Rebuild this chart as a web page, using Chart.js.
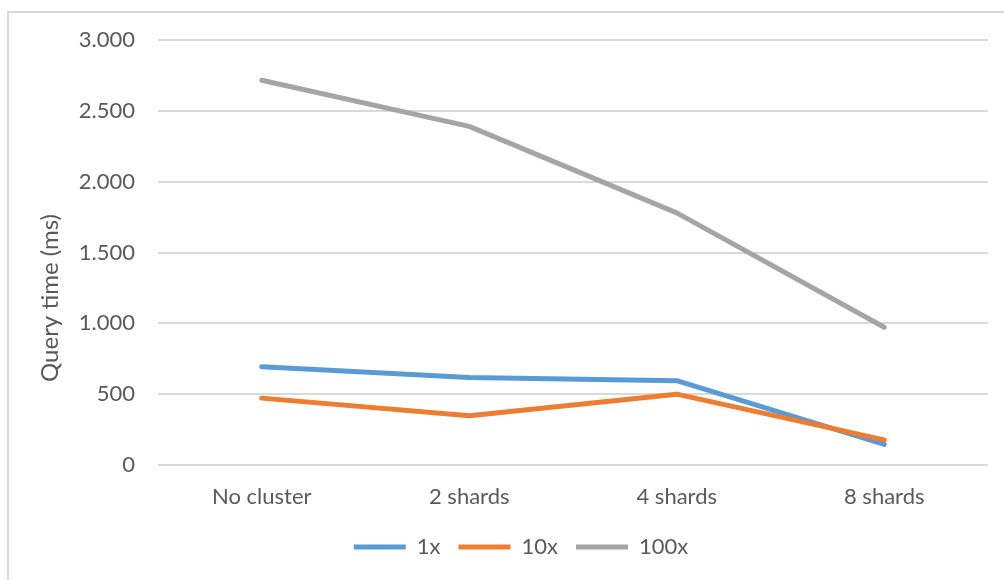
<!DOCTYPE html>
<html>
<head>
<meta charset="utf-8">
<title>Query time</title>
<script src="https://cdn.jsdelivr.net/npm/chart.js@4/dist/chart.umd.min.js"></script>
<style>
  html, body { margin: 0; padding: 0; background: #fff; }
  #wrap { position: relative; width: 1004px; height: 580px; overflow: hidden; }
  #frame { position: absolute; left: 7px; top: 11px; width: 1100px; height: 700px;
           border-left: 2px solid #d9d9d9; border-top: 2px solid #d9d9d9; }
  #chart { position: absolute; left: 0; top: 0; }
</style>
</head>
<body>
<div id="wrap">
  <div id="frame"></div>
  <canvas id="chart" width="1004" height="580"></canvas>
</div>
<script>
// chart data
const categories = ["No cluster", "2 shards", "4 shards", "8 shards"];
const seriesNames = ["1x", "10x", "100x"];
const time1x = [694, 618, 595, 145];
const time10x = [472, 347, 500, 177];
const time100x = [2716, 2390, 1780, 972];
const yTicks = [0, 500, 1000, 1500, 2000, 2500, 3000];

const textColor = "#595959";
const fontFamily = "Lato, 'Liberation Sans', sans-serif";

// thousands with a dot, like the source
function fmt(v) {
  return String(v).replace(/\B(?=(\d{3})+(?!\d))/g, ".");
}

// y axis title drawn at its own spot (Excel puts it a bit low)
const yTitle = {
  id: "yTitle",
  afterDraw(chart) {
    const ctx = chart.ctx;
    ctx.save();
    ctx.translate(50, 298);
    ctx.rotate(-Math.PI / 2);
    ctx.font = "24px " + fontFamily;
    ctx.fillStyle = textColor;
    ctx.textAlign = "center";
    ctx.textBaseline = "middle";
    ctx.fillText("Query time (ms)", 0, 0);
    ctx.restore();
  },
};

function line(label, data, color, order) {
  return {
    label,
    data,
    order,
    borderColor: color,
    backgroundColor: color,
    borderWidth: 5,
    borderCapStyle: "round",
    borderJoinStyle: "round",
    pointRadius: 0,
    pointHoverRadius: 0,
    tension: 0,
    fill: false,
  };
}

new Chart(document.getElementById("chart").getContext("2d"), {
  type: "line",
  data: {
    labels: categories,
    datasets: [
      line(seriesNames[0], time1x, "#5b9bd5", 1),
      line(seriesNames[1], time10x, "#ed7d31", 0),
      line(seriesNames[2], time100x, "#a5a5a5", 2),
    ],
  },
  options: {
    responsive: false,
    animation: false,
    layout: { padding: { left: 54, right: 16, top: 40, bottom: 12 } },
    plugins: {
      tooltip: { enabled: false },
      legend: {
        position: "bottom",
        labels: {
          usePointStyle: true,
          pointStyleWidth: 52,
          pointStyle: "line",
          color: textColor,
          font: { family: fontFamily, size: 22 },
          padding: 18,
          sort: (a, b) => a.datasetIndex - b.datasetIndex,
        },
      },
    },
    scales: {
      x: {
        offset: true,
        grid: { display: false },
        border: { display: false },
        ticks: {
          color: textColor,
          font: { family: fontFamily, size: 22 },
          padding: 11,
          maxRotation: 0,
        },
        afterFit(scale) { scale.height = 53; },
      },
      y: {
        min: 0,
        max: 3000,
        afterBuildTicks(scale) { scale.ticks = yTicks.map((v) => ({ value: v })); },
        grid: { color: "#d9d9d9", lineWidth: 2, drawTicks: false },
        border: { display: false },
        ticks: {
          color: textColor,
          font: { family: fontFamily, size: 22 },
          padding: 23,
          callback: (v) => fmt(v),
        },
        afterFit(scale) { scale.width = 104; },
      },
    },
  },
  plugins: [yTitle],
});
</script>
</body>
</html>
